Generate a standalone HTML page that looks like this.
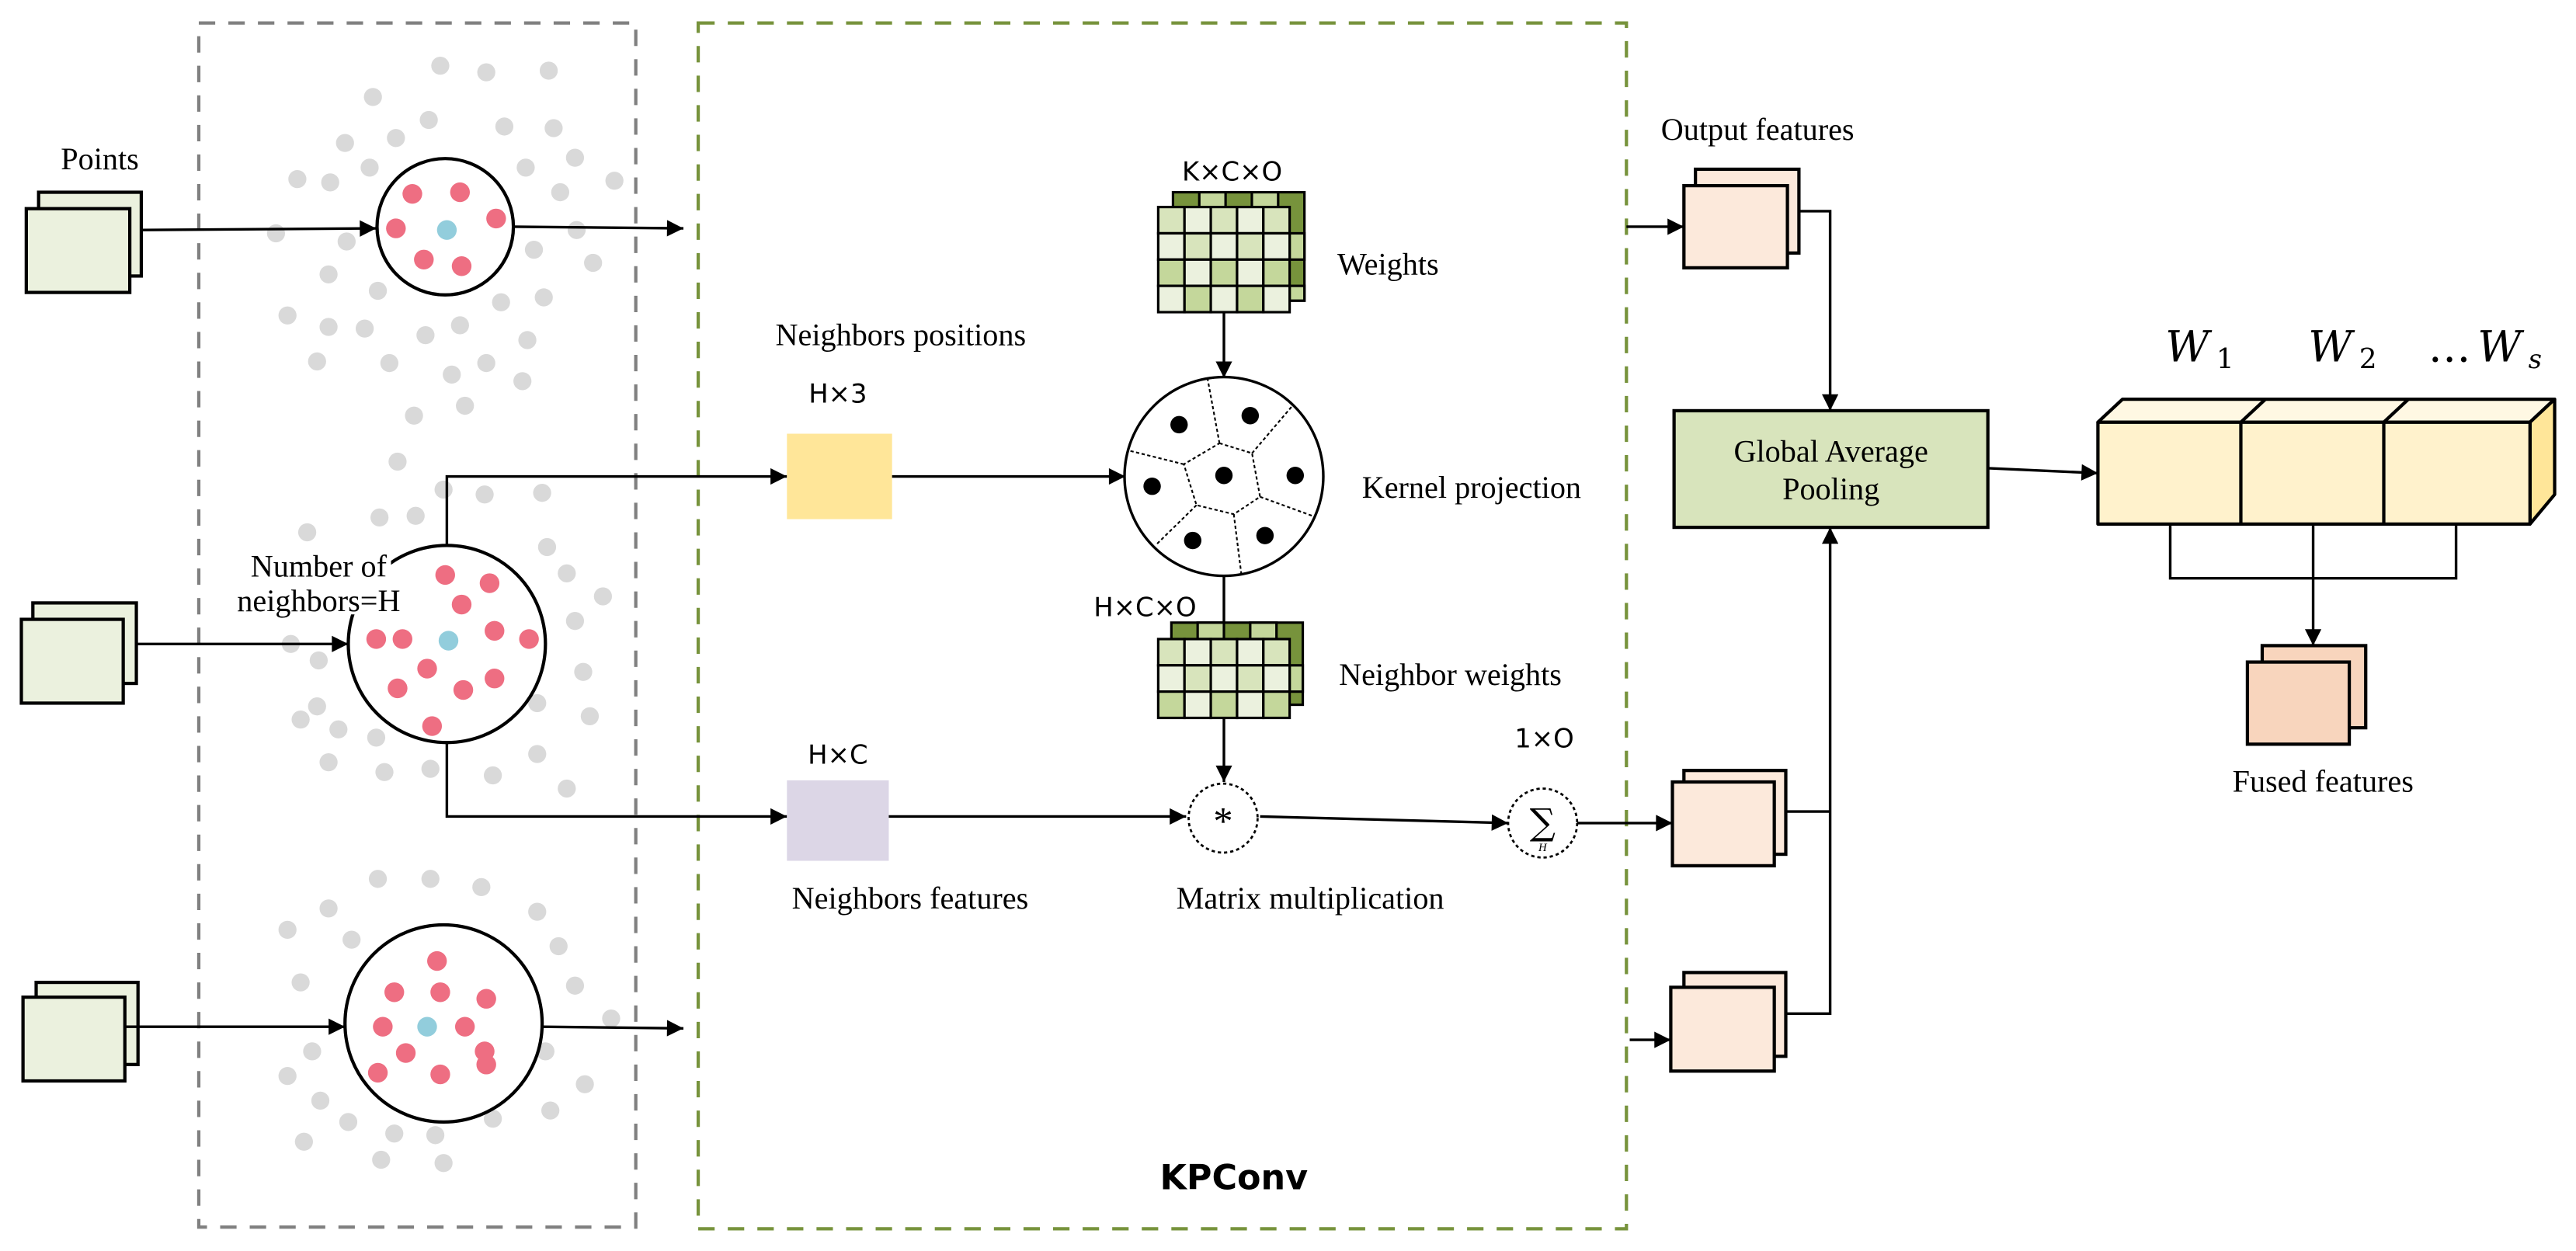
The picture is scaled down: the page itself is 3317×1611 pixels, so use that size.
<!DOCTYPE html>
<html><head><meta charset="utf-8"><style>
html,body{margin:0;padding:0;background:#fff;}
svg{display:block;}
.s{font-family:"Liberation Serif",serif;font-size:19px;fill:#000;}
.n{font-family:"DejaVu Sans","Liberation Sans",sans-serif;font-size:16px;fill:#000;}
</style></head><body>
<svg width="3317" height="1611" viewBox="0 0 1568 761.5" xmlns="http://www.w3.org/2000/svg">
<defs>
<marker id="b" viewBox="0 0 10 10" refX="10" refY="5" markerWidth="12" markerHeight="10" orient="auto" markerUnits="userSpaceOnUse"><path d="M0,0 L10,5 L0,10 z" fill="#000"/></marker>
</defs>
<rect width="1568" height="761.5" fill="#fff"/>
<rect x="121" y="14" width="266" height="733" fill="none" stroke="#808080" stroke-width="2" stroke-dasharray="10,8"/>
<rect x="425" y="14" width="565" height="734" fill="none" stroke="#77933c" stroke-width="2" stroke-dasharray="10,8"/>

<g fill="#d9d9d9">
<circle cx="268" cy="40" r="5.5"/><circle cx="296" cy="44" r="5.5"/><circle cx="334" cy="43" r="5.5"/><circle cx="227" cy="59" r="5.5"/><circle cx="261" cy="73" r="5.5"/><circle cx="307" cy="77" r="5.5"/><circle cx="337" cy="78" r="5.5"/><circle cx="210" cy="87" r="5.5"/><circle cx="241" cy="84" r="5.5"/><circle cx="225" cy="102" r="5.5"/><circle cx="181" cy="109" r="5.5"/><circle cx="201" cy="111" r="5.5"/><circle cx="320" cy="102" r="5.5"/><circle cx="350" cy="96" r="5.5"/><circle cx="374" cy="110" r="5.5"/><circle cx="341" cy="117" r="5.5"/><circle cx="168" cy="142" r="5.5"/><circle cx="211" cy="147" r="5.5"/><circle cx="325" cy="152" r="5.5"/><circle cx="351" cy="140" r="5.5"/><circle cx="361" cy="160" r="5.5"/><circle cx="200" cy="167" r="5.5"/><circle cx="230" cy="177" r="5.5"/><circle cx="305" cy="184" r="5.5"/><circle cx="331" cy="181" r="5.5"/><circle cx="175" cy="192" r="5.5"/><circle cx="200" cy="199" r="5.5"/><circle cx="222" cy="200" r="5.5"/><circle cx="259" cy="204" r="5.5"/><circle cx="280" cy="198" r="5.5"/><circle cx="321" cy="207" r="5.5"/><circle cx="193" cy="220" r="5.5"/><circle cx="237" cy="221" r="5.5"/><circle cx="275" cy="228" r="5.5"/><circle cx="296" cy="221" r="5.5"/><circle cx="318" cy="232" r="5.5"/><circle cx="252" cy="253" r="5.5"/><circle cx="283" cy="247" r="5.5"/><circle cx="242" cy="281" r="5.5"/><circle cx="270" cy="298" r="5.5"/><circle cx="295" cy="301" r="5.5"/><circle cx="330" cy="300" r="5.5"/>
<circle cx="231" cy="315" r="5.5"/><circle cx="253" cy="314" r="5.5"/><circle cx="187" cy="324" r="5.5"/><circle cx="216" cy="338" r="5.5"/><circle cx="333" cy="333" r="5.5"/><circle cx="345" cy="349" r="5.5"/><circle cx="367" cy="363" r="5.5"/><circle cx="350" cy="378" r="5.5"/><circle cx="177" cy="392" r="5.5"/><circle cx="194" cy="402" r="5.5"/><circle cx="355" cy="409" r="5.5"/><circle cx="359" cy="436" r="5.5"/><circle cx="193" cy="430" r="5.5"/><circle cx="183" cy="438" r="5.5"/><circle cx="206" cy="444" r="5.5"/><circle cx="229" cy="449" r="5.5"/><circle cx="327" cy="428" r="5.5"/><circle cx="200" cy="464" r="5.5"/><circle cx="234" cy="470" r="5.5"/><circle cx="262" cy="468" r="5.5"/><circle cx="327" cy="459" r="5.5"/><circle cx="300" cy="472" r="5.5"/><circle cx="345" cy="480" r="5.5"/>
<circle cx="230" cy="535" r="5.5"/><circle cx="262" cy="535" r="5.5"/><circle cx="293" cy="540" r="5.5"/><circle cx="200" cy="553" r="5.5"/><circle cx="327" cy="555" r="5.5"/><circle cx="175" cy="566" r="5.5"/><circle cx="214" cy="572" r="5.5"/><circle cx="340" cy="576" r="5.5"/><circle cx="183" cy="598" r="5.5"/><circle cx="350" cy="600" r="5.5"/><circle cx="322" cy="608" r="5.5"/><circle cx="372" cy="620" r="5.5"/><circle cx="190" cy="640" r="5.5"/><circle cx="332" cy="640" r="5.5"/><circle cx="175" cy="655" r="5.5"/><circle cx="356" cy="660" r="5.5"/><circle cx="195" cy="670" r="5.5"/><circle cx="212" cy="683" r="5.5"/><circle cx="240" cy="690" r="5.5"/><circle cx="265" cy="691" r="5.5"/><circle cx="300" cy="681" r="5.5"/><circle cx="335" cy="676" r="5.5"/><circle cx="232" cy="706" r="5.5"/><circle cx="270" cy="708" r="5.5"/><circle cx="185" cy="695" r="5.5"/>
</g>

<g stroke="#000" stroke-width="2" fill="#ebf1de">
<rect x="23.5" y="117" width="62.5" height="51"/><rect x="16" y="127" width="63" height="51"/>
<rect x="20" y="367" width="63" height="49"/><rect x="13" y="377" width="62" height="51"/>
<rect x="22" y="598" width="62" height="50"/><rect x="14" y="607" width="62" height="51"/>
</g>
<text class="s" x="37" y="103">Points</text>

<g stroke="#000" stroke-width="2" fill="#fff">
<circle cx="271" cy="138" r="41.5"/>
<circle cx="272" cy="392" r="60"/>
<circle cx="270" cy="623" r="60"/>
</g>
<g fill="#ee6e82">
<circle cx="251" cy="118" r="6"/><circle cx="280" cy="117" r="6"/><circle cx="241" cy="139" r="6"/><circle cx="302" cy="133" r="6"/><circle cx="258" cy="158" r="6"/><circle cx="281" cy="162" r="6"/>
<circle cx="271" cy="350" r="6"/><circle cx="298" cy="355" r="6"/><circle cx="281" cy="368" r="6"/><circle cx="229" cy="389" r="6"/><circle cx="245" cy="389" r="6"/><circle cx="301" cy="384" r="6"/><circle cx="322" cy="389" r="6"/><circle cx="260" cy="407" r="6"/><circle cx="301" cy="413" r="6"/><circle cx="242" cy="419" r="6"/><circle cx="282" cy="420" r="6"/><circle cx="263" cy="442" r="6"/>
<circle cx="266" cy="585" r="6"/><circle cx="240" cy="604" r="6"/><circle cx="268" cy="604" r="6"/><circle cx="296" cy="608" r="6"/><circle cx="233" cy="625" r="6"/><circle cx="283" cy="625" r="6"/><circle cx="247" cy="641" r="6"/><circle cx="295" cy="640" r="6"/><circle cx="230" cy="653" r="6"/><circle cx="268" cy="654" r="6"/><circle cx="296" cy="648" r="6"/>
</g>
<g fill="#92cddc">
<circle cx="272" cy="140" r="6"/><circle cx="273" cy="390" r="6"/><circle cx="260" cy="625" r="6"/>
</g>
<rect x="150" y="330" width="88" height="44" fill="#fff"/>
<text class="s" x="194" y="351" text-anchor="middle">Number of</text>
<text class="s" x="194" y="372" text-anchor="middle">neighbors=H</text>

<g stroke="#000" stroke-width="1.6" fill="none">
<path d="M86,140 L229,139" marker-end="url(#b)"/>
<path d="M312,138 L416,139" marker-end="url(#b)"/>
<path d="M83,392 L212,392" marker-end="url(#b)"/>
<path d="M76,625 L210,625" marker-end="url(#b)"/>
<path d="M330,625 L416,626" marker-end="url(#b)"/>
<path d="M272,332 L272,290 L479,290" marker-end="url(#b)"/>
<path d="M272,452 L272,497 L479,497" marker-end="url(#b)"/>
</g>

<text class="s" x="472" y="210">Neighbors positions</text>
<text class="n" x="510" y="245" text-anchor="middle">H×3</text>
<rect x="479" y="264" width="64" height="52" fill="#ffe699"/>
<text class="n" x="510" y="465" text-anchor="middle">H×C</text>
<rect x="479" y="475" width="62" height="49" fill="#dcd6e6"/>
<text class="s" x="482" y="553">Neighbors features</text>
<text class="s" x="716" y="553">Matrix multiplication</text>

<g stroke="#000" stroke-width="1.6" fill="none">
<path d="M543,290 L685,290" marker-end="url(#b)"/>
<path d="M745,190 L745,230" marker-end="url(#b)"/>
<path d="M745,350 L745,380"/>
<path d="M745,437 L745,476" marker-end="url(#b)"/>
<path d="M541,497 L722,497" marker-end="url(#b)"/>
<path d="M767,497 L918,501" marker-end="url(#b)"/>
<path d="M960,501 L1018,501" marker-end="url(#b)"/>
</g>

<text class="n" x="750" y="110" text-anchor="middle">K×C×O</text>
<g stroke="#000" stroke-width="1.5">
<rect x="714" y="117" width="80" height="66" fill="#77933c"/>
<rect x="730" y="117" width="16" height="9" fill="#c4d79b"/><rect x="762" y="117" width="16" height="9" fill="#c4d79b"/>
<rect x="785" y="142" width="9" height="16" fill="#c4d79b"/><rect x="785" y="174" width="9" height="9" fill="#c4d79b"/>
</g>
<g stroke="#000" stroke-width="1.5">
<rect x="705" y="126" width="16" height="16" fill="#d8e4bc"/><rect x="721" y="126" width="16" height="16" fill="#ebf1de"/><rect x="737" y="126" width="16" height="16" fill="#d8e4bc"/><rect x="753" y="126" width="16" height="16" fill="#ebf1de"/><rect x="769" y="126" width="16" height="16" fill="#d8e4bc"/>
<rect x="705" y="142" width="16" height="16" fill="#ebf1de"/><rect x="721" y="142" width="16" height="16" fill="#d8e4bc"/><rect x="737" y="142" width="16" height="16" fill="#ebf1de"/><rect x="753" y="142" width="16" height="16" fill="#d8e4bc"/><rect x="769" y="142" width="16" height="16" fill="#ebf1de"/>
<rect x="705" y="158" width="16" height="16" fill="#c4d79b"/><rect x="721" y="158" width="16" height="16" fill="#ebf1de"/><rect x="737" y="158" width="16" height="16" fill="#c4d79b"/><rect x="753" y="158" width="16" height="16" fill="#ebf1de"/><rect x="769" y="158" width="16" height="16" fill="#c4d79b"/>
<rect x="705" y="174" width="16" height="16" fill="#ebf1de"/><rect x="721" y="174" width="16" height="16" fill="#c4d79b"/><rect x="737" y="174" width="16" height="16" fill="#ebf1de"/><rect x="753" y="174" width="16" height="16" fill="#c4d79b"/><rect x="769" y="174" width="16" height="16" fill="#ebf1de"/>
</g>
<text class="s" x="814" y="167">Weights</text>

<circle cx="745" cy="290" r="60.5" fill="#fff" stroke="#000" stroke-width="1.6"/>
<g stroke="#000" stroke-width="1" stroke-dasharray="2,1.5" fill="none">
<path d="M742.3,269.8 L762.1,275.9 L767,302.4 L751,313 L728.3,307.5 L720.6,282.6 Z"/>
<path d="M742.3,269.8 L735.1,230.8"/><path d="M762.1,275.9 L786.7,247"/><path d="M767,302.4 L800.2,314.5"/><path d="M751,313 L755.6,349.5"/><path d="M728.3,307.5 L703.7,331.6"/><path d="M720.6,282.6 L686.9,274.2"/>
</g>
<g fill="#000">
<circle cx="717.7" cy="258.5" r="5.3"/><circle cx="761" cy="253" r="5.3"/><circle cx="701.3" cy="296" r="5.3"/><circle cx="745" cy="289.4" r="5.3"/><circle cx="788.4" cy="289.4" r="5.3"/><circle cx="726" cy="329" r="5.3"/><circle cx="770" cy="326" r="5.3"/>
</g>
<text class="s" x="829" y="303">Kernel projection</text>

<text class="n" x="697" y="375" text-anchor="middle">H×C×O</text>
<g stroke="#000" stroke-width="1.5">
<rect x="713" y="379" width="80" height="50" fill="#77933c"/>
<rect x="729" y="379" width="16" height="10" fill="#c4d79b"/><rect x="761" y="379" width="16" height="10" fill="#c4d79b"/>
<rect x="785" y="405" width="8" height="16" fill="#c4d79b"/>
<rect x="705" y="389" width="16" height="16" fill="#d8e4bc"/><rect x="721" y="389" width="16" height="16" fill="#ebf1de"/><rect x="737" y="389" width="16" height="16" fill="#d8e4bc"/><rect x="753" y="389" width="16" height="16" fill="#ebf1de"/><rect x="769" y="389" width="16" height="16" fill="#d8e4bc"/>
<rect x="705" y="405" width="16" height="16" fill="#ebf1de"/><rect x="721" y="405" width="16" height="16" fill="#d8e4bc"/><rect x="737" y="405" width="16" height="16" fill="#ebf1de"/><rect x="753" y="405" width="16" height="16" fill="#d8e4bc"/><rect x="769" y="405" width="16" height="16" fill="#ebf1de"/>
<rect x="705" y="421" width="16" height="16" fill="#c4d79b"/><rect x="721" y="421" width="16" height="16" fill="#ebf1de"/><rect x="737" y="421" width="16" height="16" fill="#c4d79b"/><rect x="753" y="421" width="16" height="16" fill="#ebf1de"/><rect x="769" y="421" width="16" height="16" fill="#c4d79b"/>
</g>
<text class="s" x="815" y="417">Neighbor weights</text>

<circle cx="744.5" cy="498" r="21" fill="#fff" stroke="#000" stroke-width="1.3" stroke-dasharray="2,1.8"/>
<text x="744.5" y="508" text-anchor="middle" style="font-family:'Liberation Serif',serif;font-size:24px;">*</text>
<circle cx="939" cy="501" r="21" fill="#fff" stroke="#000" stroke-width="1.3" stroke-dasharray="2,1.8"/>
<text x="939" y="508" text-anchor="middle" style="font-family:'DejaVu Serif',serif;font-size:22px;">∑</text>
<text x="939" y="518" text-anchor="middle" style="font-family:'Liberation Serif',serif;font-size:7px;font-style:italic;">H</text>
<text class="n" x="940" y="455" text-anchor="middle">1×O</text>

<text x="706" y="724" style="font-family:'DejaVu Sans','Liberation Sans',sans-serif;font-size:21px;font-weight:bold;">KPConv</text>

<text class="s" x="1011" y="85">Output features</text>
<g stroke="#000" stroke-width="2" fill="#fce9db">
<rect x="1032" y="103" width="63" height="51"/><rect x="1025" y="113" width="63" height="50"/>
<rect x="1025" y="469" width="62" height="51"/><rect x="1018" y="476" width="62" height="51"/>
<rect x="1025" y="592" width="62" height="51"/><rect x="1017" y="601" width="63" height="51"/>
</g>
<g stroke="#000" stroke-width="1.6" fill="none">
<path d="M990,138 L1025,138" marker-end="url(#b)"/>
<path d="M992,633 L1017,633" marker-end="url(#b)"/>
<path d="M1095,128.5 L1114,128.5 L1114,250" marker-end="url(#b)"/>
<path d="M1087,494 L1114,494"/>
<path d="M1087,617 L1114,617 L1114,321" marker-end="url(#b)"/>
<path d="M1210,285 L1277,288" marker-end="url(#b)"/>
</g>
<rect x="1019" y="250" width="191" height="71" fill="#d8e4bc" stroke="#000" stroke-width="2"/>
<text class="s" x="1114.5" y="281" text-anchor="middle">Global Average</text>
<text class="s" x="1114.5" y="304" text-anchor="middle">Pooling</text>

<g stroke="#000" stroke-width="2" stroke-linejoin="round">
<path d="M1277,257 L1292,243 L1555,243 L1540,257 Z" fill="#fff8e3"/>
<path d="M1364,257 L1379,243 M1451,257 L1466,243" fill="none"/>
<path d="M1540,257 L1555,243 L1555,301 L1540,319 Z" fill="#ffe699"/>
<rect x="1277" y="257" width="263" height="62" fill="#fff2cc"/>
<path d="M1364,257 L1364,319 M1451,257 L1451,319" fill="none"/>
</g>
<g stroke="#000" stroke-width="1.6" fill="none">
<path d="M1321,319 L1321,352 L1495,352 L1495,319"/>
<path d="M1408,319 L1408,393" marker-end="url(#b)"/>
</g>
<g style="font-family:'DejaVu Serif','Liberation Serif',serif;font-style:italic;font-size:26px;">
<text x="1318" y="220">W</text><text x="1349" y="224" style="font-style:normal;font-size:17px;">1</text>
<text x="1405" y="220">W</text><text x="1436" y="224" style="font-style:normal;font-size:17px;">2</text>
<text x="1478" y="220" style="font-style:normal;">…</text><text x="1508" y="220">W</text><text x="1539" y="224" style="font-size:16px;">s</text>
</g>
<g stroke="#000" stroke-width="2" fill="#f8d5bd">
<rect x="1377" y="393" width="63" height="50"/><rect x="1368" y="403" width="62" height="50"/>
</g>
<text class="s" x="1414" y="482" text-anchor="middle">Fused features</text>
</svg>
</body></html>
